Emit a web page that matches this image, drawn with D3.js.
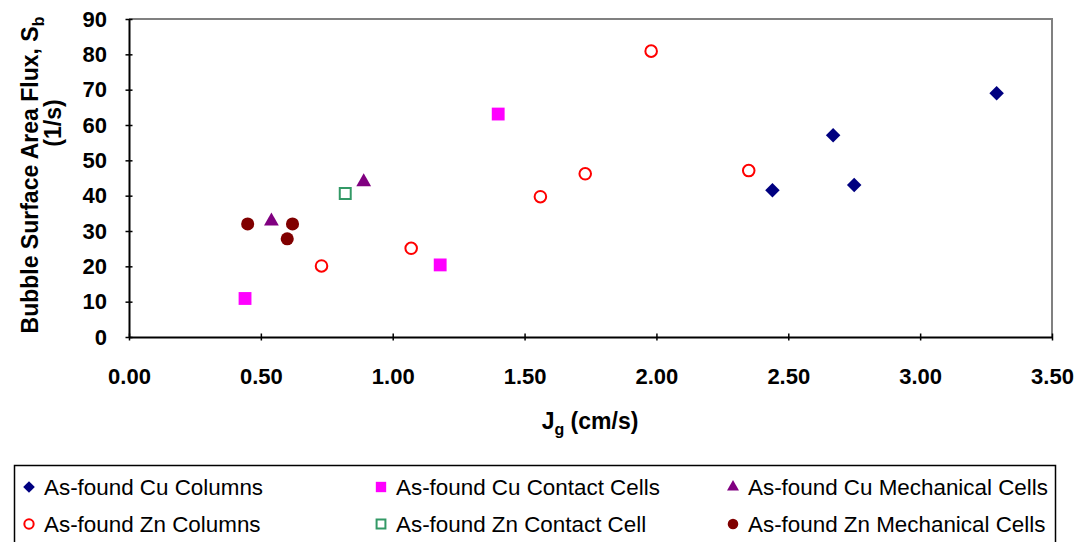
<!DOCTYPE html>
<html>
  <head>
    <title>Bubble Surface Area Flux</title>
    <script src="https://cdn.jsdelivr.net/npm/d3@7"></script>
    <style>
      body { margin: 0; background: #fff; }
      text { font-family: "Liberation Sans", Arial, sans-serif; }
    </style>
  </head>
  <body>
    <svg width="1083" height="542" id="mainsvg"></svg>
    <script>
      // values
      const cuColumns = [[2.44, 41.5], [2.67, 57.1], [2.75, 43.0], [3.29, 69.0]];
      const cuContact = [[0.44, 10.9], [1.18, 20.4], [1.40, 63.1]];
      const cuMech = [[0.54, 32.8], [0.89, 43.9]];
      const znColumns = [[0.73, 20.1], [1.07, 25.1], [1.56, 39.7], [1.73, 46.2], [1.98, 80.9], [2.35, 47.1]];
      const znContact = [[0.82, 40.6]];
      const znMech = [[0.45, 32.0], [0.62, 32.0], [0.60, 27.8]];
      const xTicks = [0, 0.5, 1, 1.5, 2, 2.5, 3, 3.5];
      const yTicks = [0, 10, 20, 30, 40, 50, 60, 70, 80, 90];

      const series = [
        {name: 'As-found Cu Columns', data: cuColumns, shape: 'diamond', color: '#000080', fill: true, size: 105},
        {name: 'As-found Cu Contact Cells', data: cuContact, shape: 'square', color: '#ff00ff', fill: true, size: 165},
        {name: 'As-found Cu Mechanical Cells', data: cuMech, shape: 'triangle', color: '#800080', fill: true, size: 95},
        {name: 'As-found Zn Columns', data: znColumns, shape: 'circle', color: '#ff0000', fill: false, size: 105},
        {name: 'As-found Zn Contact Cell', data: znContact, shape: 'square', color: '#339966', fill: false, size: 120},
        {name: 'As-found Zn Mechanical Cells', data: znMech, shape: 'circle', color: '#800000', fill: true, size: 135}
      ];

      const svg = d3.select('#mainsvg');
      const margin = {top: 19, left: 129, right: 31, bottom: 205};
      const innerWidth = 1083 - margin.left - margin.right;
      const innerHeight = 542 - margin.top - margin.bottom;

      const xScale = d3.scaleLinear().domain([0, 3.5]).range([0, innerWidth]);
      const yScale = d3.scaleLinear().domain([0, 90]).range([innerHeight, 0]);

      const g = svg.append('g')
        .attr('transform', `translate(${margin.left}, ${margin.top})`);

      // plot area border (top / right in grey)
      g.append('path')
        .attr('d', `M0,0H${innerWidth}V${innerHeight}`)
        .attr('fill', 'none')
        .attr('stroke', '#808080')
        .attr('stroke-width', 2);

      const xAxis = d3.axisBottom(xScale).tickValues(xTicks)
        .tickFormat(d3.format('.2f')).tickSizeInner(7).tickSizeOuter(0).tickPadding(24);
      const yAxis = d3.axisLeft(yScale).tickValues(yTicks)
        .tickSizeInner(7).tickSizeOuter(0).tickPadding(15);

      const xAxisGroup = g.append('g')
        .attr('transform', `translate(0, ${innerHeight})`)
        .call(xAxis);
      xAxisGroup.selectAll('.tick line').attr('transform', 'translate(0,-3.5)');
      const yAxisGroup = g.append('g').call(yAxis);
      yAxisGroup.selectAll('.tick line').attr('transform', 'translate(3.5,0)');

      [xAxisGroup, yAxisGroup].forEach(ax => {
        ax.attr('font-size', 22).attr('font-family', '"Liberation Sans", Arial, sans-serif');
        ax.select('.domain').attr('stroke', '#000').attr('stroke-width', 2);
        ax.selectAll('.tick line').attr('stroke', '#000').attr('stroke-width', 1.5);
        ax.selectAll('.tick text')
          .attr('fill', '#000')
          .style('font-size', '22px')
          .style('font-weight', 'bold');
      });

      // axis titles
      const xTitle = svg.append('text')
        .attr('x', 590).attr('y', 429)
        .attr('text-anchor', 'middle')
        .style('font-size', '23px').style('font-weight', 'bold');
      xTitle.append('tspan').text('J');
      xTitle.append('tspan').text('g').attr('dy', 6).style('font-size', '16px');
      xTitle.append('tspan').text(' (cm/s)').attr('dy', -6);

      const yTitle = svg.append('text')
        .attr('transform', 'translate(38, 175) rotate(-90)')
        .attr('text-anchor', 'middle')
        .style('font-size', '23px').style('font-weight', 'bold');
      yTitle.append('tspan').text('Bubble Surface Area Flux, S');
      yTitle.append('tspan').text('b').attr('dy', 6).style('font-size', '16px');
      svg.append('text')
        .attr('transform', 'translate(61, 123) rotate(-90)')
        .attr('text-anchor', 'middle')
        .style('font-size', '23px').style('font-weight', 'bold')
        .text('(1/s)');

      const symbolFor = {
        diamond: d3.symbolSquare,
        square: d3.symbolSquare,
        triangle: d3.symbolTriangle,
        circle: d3.symbolCircle
      };
      const drawMarker = (sel, s, scale) => {
        sel.attr('d', d3.symbol().type(symbolFor[s.shape]).size(s.size * scale))
          .attr('fill', s.fill ? s.color : 'none')
          .attr('stroke', s.color)
          .attr('stroke-width', s.fill ? 0 : 2);
      };
      const rot = s => (s.shape === 'diamond' ? ' rotate(45)' : '');

      series.forEach(s => {
        g.append('g').selectAll('path')
          .data(s.data)
          .enter()
          .append('path')
          .attr('transform', d => `translate(${xScale(d[0])}, ${yScale(d[1])})` + rot(s))
          .call(drawMarker, s, 1);
      });

      // legend (box runs off the bottom of the picture, as in the original)
      const legend = svg.append('g');
      legend.append('path')
        .attr('d', 'M14.5,542V465.5H1055.5V542')
        .attr('fill', '#fff').attr('stroke', '#000').attr('stroke-width', 1.5);
      const colX = [29, 381, 733];
      const rowY = [487, 524];
      series.forEach((s, i) => {
        const x = colX[i % 3], y = rowY[Math.floor(i / 3)];
        legend.append('path')
          .attr('transform', `translate(${x}, ${y})` + rot(s))
          .call(drawMarker, s, 0.65);
        legend.append('text')
          .attr('x', x + 15).attr('y', y)
          .attr('dy', '0.36em')
          .style('font-size', '22.4px')
          .text(s.name);
      });
    </script>
  </body>
</html>
